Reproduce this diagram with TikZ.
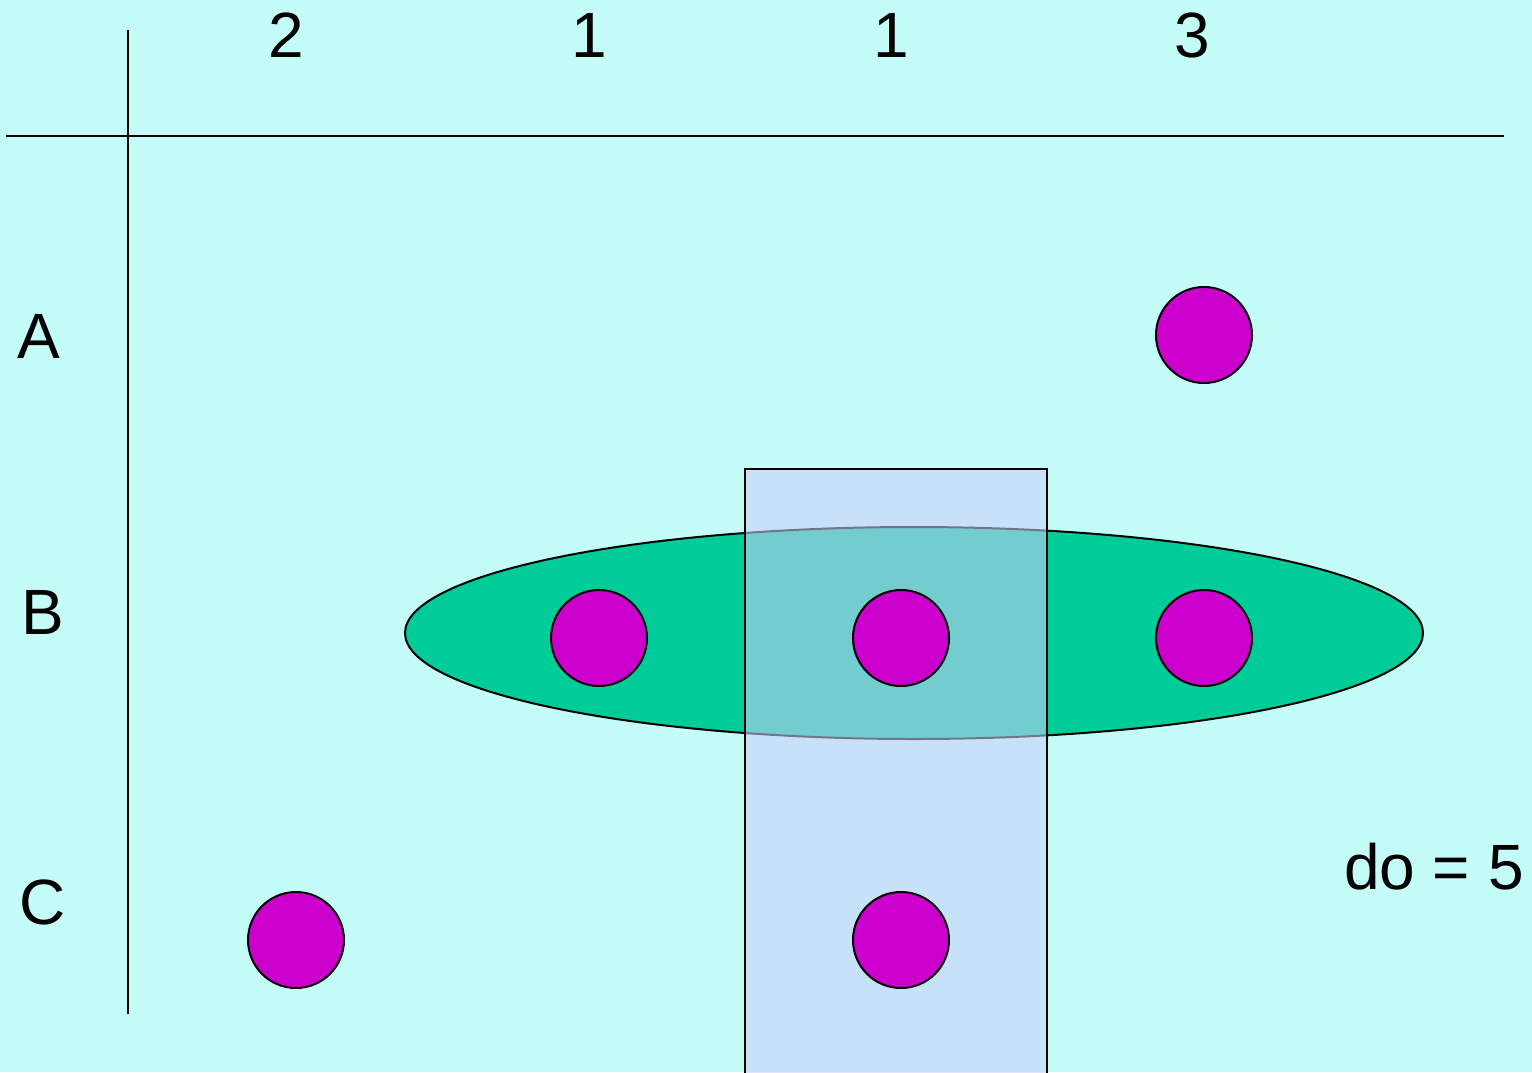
\documentclass[tikz,border=0pt]{standalone}
\usepackage{fontspec}
\setmainfont{Liberation Sans}
\definecolor{bgcol}{HTML}{C4FCF8}
\definecolor{ellcol}{HTML}{00CC99}
\definecolor{rectcol}{HTML}{CBCEF8}
\definecolor{dotcol}{HTML}{CC00CC}
\begin{document}
\begin{tikzpicture}[x=1pt,y=-1pt,
  lbl/.style={anchor=base,inner sep=0pt,font=\fontsize{64}{76}\selectfont},
  dot/.style={circle,draw=black,line width=2pt,fill=dotcol,minimum size=96pt,inner sep=0pt},
  axis/.style={draw=black,line width=2pt}]
\fill[bgcol] (0,0) rectangle (1532,1072);
\useasboundingbox (0,0) rectangle (1532,1072);
\clip (0,0) rectangle (1532,1072);
% axes
\coordinate (vtop) at (128,30);
\coordinate (vbot) at (128,1014);
\coordinate (hl) at (6,136);
\coordinate (hr) at (1504,136);
\draw[axis] (vtop) -- (vbot);
\draw[axis] (hl) -- (hr);
% ellipse
\draw[line width=2pt,fill=ellcol] (914,633) ellipse [x radius=509, y radius=106];
% column rectangle
\draw[line width=2pt,fill=rectcol,fill opacity=0.57] (745,1080) -- (745,469) -- (1047,469) -- (1047,1080);
% dots
\node[dot] (a3) at (1204,335) {};
\node[dot] (b1) at (599,638) {};
\node[dot] (b2) at (901,638) {};
\node[dot] (b3) at (1204,638) {};
\node[dot] (c0) at (296,940) {};
\node[dot] (c2) at (901,940) {};
% labels
\node[lbl] (h1) at (286,57) {2};
\node[lbl] (h2) at (589,57) {1};
\node[lbl] (h3) at (891,57) {1};
\node[lbl] (h4) at (1192,57) {3};
\node[lbl] (ra) at (39,358) {A};
\node[lbl] (rb) at (43,634) {B};
\node[lbl] (rc) at (43,924) {C};
\node[lbl,anchor=base east] (do) at (1524,889) {do = 5};
\end{tikzpicture}
\end{document}
